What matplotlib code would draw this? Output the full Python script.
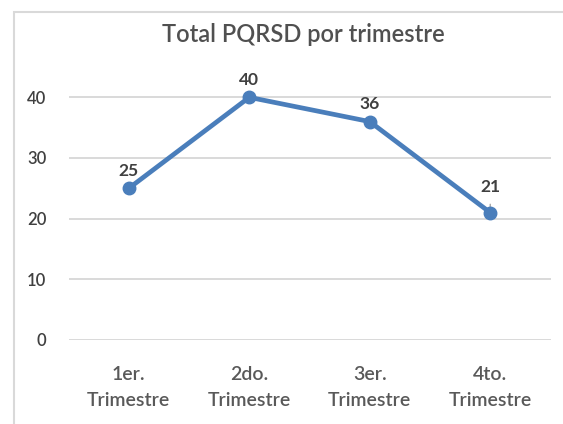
import matplotlib.pyplot as plt
from matplotlib.patches import Rectangle

categories = ["1er.\nTrimestre", "2do.\nTrimestre", "3er.\nTrimestre", "4to.\nTrimestre"]
totals = [25, 40, 36, 21]
yticks = [0, 10, 20, 30, 40]

plt.rcParams['font.family'] = ['Lato', 'DejaVu Sans']

fig = plt.figure(figsize=(5.63, 4.24), dpi=100)
ax = fig.add_axes([68.5 / 563, 84 / 424, 482 / 563, 273 / 424])

# chart border (cropped on the right and bottom)
fig.patches.append(Rectangle((14 / 563, -0.1), 1.2, (424 - 12) / 424 + 0.1,
                             transform=fig.transFigure, fill=False,
                             edgecolor='#d9d9d9', linewidth=1.5))

x = range(len(totals))
ax.plot(x, totals, color='#4a7ebb', linewidth=3.4, marker='o', markersize=9,
        solid_capstyle='round', zorder=3)
label_offsets = [7, 7, 7, 13]
for i, v in enumerate(totals):
    ax.annotate(str(v), (i, v), xytext=(0, label_offsets[i]), textcoords='offset points',
                ha='center', va='bottom', fontsize=12.5, fontweight='bold', color='#404040')
# leader line of the moved last label
ax.annotate("", (len(totals) - 1, totals[-1]), xytext=(0, 8), textcoords='offset points',
            arrowprops=dict(arrowstyle='-', color='#a6a6a6', lw=1), zorder=2)

ax.set_xlim(-0.5, len(totals) - 0.5)
ax.set_ylim(0, 45)
ax.set_yticks(yticks)
ax.set_xticks(list(x))
ax.set_xticklabels(categories, fontsize=14, color='#595959', linespacing=1.65,
                   fontweight='semibold')
for lbl in ax.get_yticklabels():
    lbl.set_fontweight('semibold')
ax.tick_params(axis='y', labelsize=12, colors='#404040', length=0, pad=16)
ax.tick_params(axis='x', length=0, pad=19)
for y in yticks:
    ax.axhline(y, color='#d9d9d9', linewidth=1.4, zorder=1)
for s in ax.spines.values():
    s.set_visible(False)

fig.text(303 / 563, 1 - 35 / 424, "Total PQRSD por trimestre", ha='center', va='center',
         fontsize=17, color='#505050', fontweight='semibold')

fig.savefig("out.png", dpi=100)
